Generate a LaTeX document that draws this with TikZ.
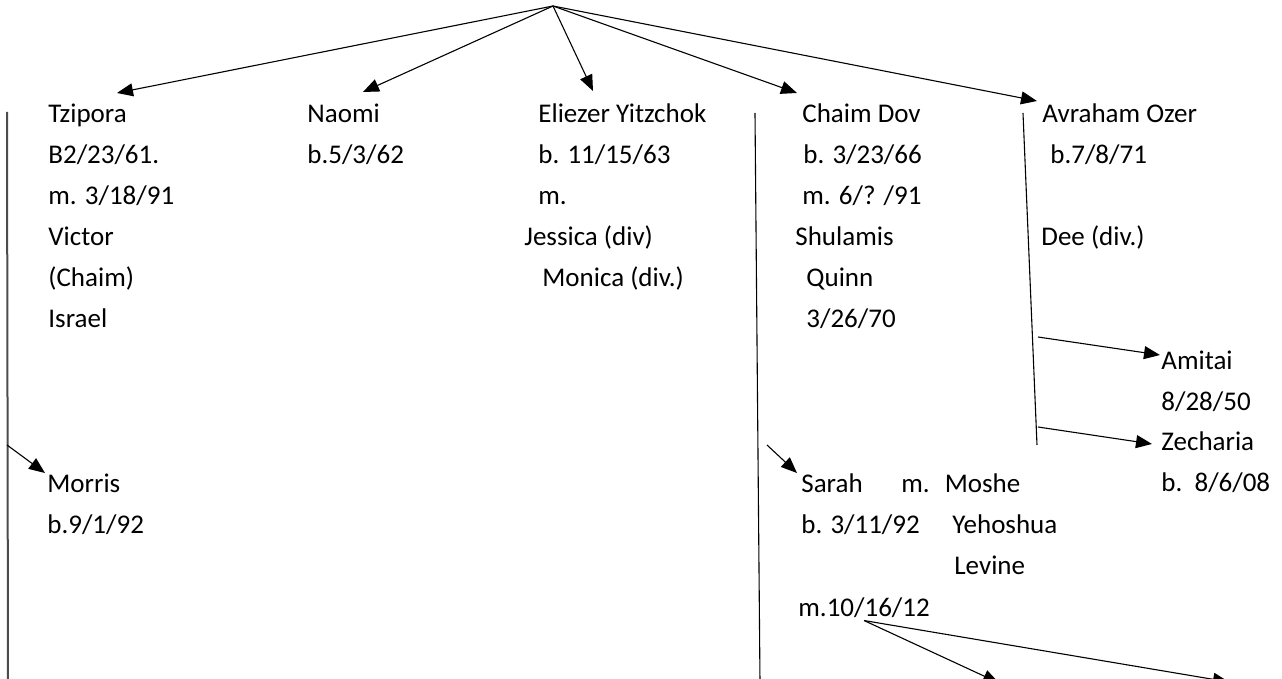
\documentclass[tikz,border=0pt]{standalone}
\usepackage{fontspec}
\setmainfont{Carlito}
\usetikzlibrary{arrows.meta}

\newcommand{\righe}[1]{\begin{tabular}[t]{@{}l@{}}#1\end{tabular}}

\tikzset{
	persona/.style={anchor=base west, inner sep=0pt, font=\fontsize{13.5}{20.5}\selectfont},
	figlio/.style={-{Triangle[length=8pt,width=6.5pt]}, line width=0.55pt},
	ramo/.style={line width=0.55pt},
	bordo/.style={line width=1pt, black!70},
}

\begin{document}
\begin{tikzpicture}[x=0.5pt, y=-0.5pt]
	\useasboundingbox (0,0) rectangle (1282,679);
	
	%%% Punti
	\coordinate (top) at (553,6);				% genitori
	\coordinate (la) at (7,112);  \coordinate (lb) at (8,682);		% linea Tzipora
	\coordinate (ca) at (755,113); \coordinate (cb) at (760,682);	% linea Chaim Dov
	\coordinate (aa) at (1023,113); \coordinate (ab) at (1037,445);	% linea Avraham Ozer
	\coordinate (mo0) at (7,445);
	\coordinate (sa0) at (767,445);
	\coordinate (am0) at (1038,337);
	\coordinate (ze0) at (1038,427);
	\coordinate (k1) at (999,683);
	\coordinate (k2) at (1229,682);
	
	%%% Figli
	\node[persona] (tz) at (48,123) {\righe{Tzipora\\B2/23/61.\\m. 3/18/91\\Victor\\(Chaim)\\Israel}};
	\node[persona] (na) at (307,123) {\righe{Naomi\\b.5/3/62}};
	\node[persona] (el) at (538,123) {\righe{Eliezer Yitzchok\\b. 11/15/63\\m.\\\hspace*{-7pt}Jessica (div)\\\hspace*{2pt}Monica (div.)}};
	\node[persona] (cd) at (802,123) {\righe{Chaim Dov\\\hspace*{0.5pt}b. 3/23/66\\m. 6/? /91\\\hspace*{-3.5pt}Shulamis\\\hspace*{2pt}Quinn\\\hspace*{2pt}3/26/70}};
	\node[persona] (ao) at (1042,123) {\righe{Avraham Ozer\\\hspace*{4pt}b.7/8/71\\~\\\hspace*{-0.5pt}Dee (div.)}};
	
	%%% Nipoti
	\node[persona] (mr) at (47,493) {\righe{Morris\\b.9/1/92}};
	\node[persona] (sa) at (801,493) {\righe{Sarah\\b. 3/11/92}};
	\node[persona] (ms) at (901,493) {\righe{m.\hspace{7.5pt}Moshe\\\hspace*{25.5pt}Yehoshua\\\hspace*{26.5pt}Levine}};
	\node[persona] (sm) at (798,617) {m.10/16/12};
	\node[persona] (am) at (1161,370) {\righe{Amitai\\8/28/50}};
	\node[persona] (ze) at (1161,451) {\righe{Zecharia\\b.\ \ 8/6/08}};
	
	%%% Linee
	\draw[bordo] (la) -- (lb);
	\draw[ramo] (ca) -- (cb);
	\draw[ramo] (aa) -- (ab);
	
	%%% Frecce
	\draw[figlio] (top) -- ([xshift=34.5pt,yshift=15pt]tz.base west);
	\draw[figlio] (top) -- ([xshift=28pt,yshift=15.5pt]na.base west);
	\draw[figlio] (top) -- ([xshift=27.5pt,yshift=16pt]el.base west);
	\draw[figlio] (top) -- ([xshift=-2.5pt,yshift=15pt]cd.base west);
	\draw[figlio] (top) -- ([xshift=-2.5pt,yshift=11pt]ao.base west);
	\draw[figlio] (mo0) -- ([xshift=-1pt,yshift=10pt]mr.base west);
	\draw[figlio] (sa0) -- ([xshift=-2pt,yshift=10pt]sa.base west);
	\draw[figlio] (am0) -- ([xshift=-0.5pt,yshift=7.5pt]am.base west);
	\draw[figlio] (ze0) -- ([xshift=-4.5pt,yshift=3.5pt]ze.base west);
	\draw[figlio] ([yshift=-1pt]sm.south) -- (k1);
	\draw[figlio] ([yshift=-1pt]sm.south) -- (k2);
\end{tikzpicture}
\end{document}
